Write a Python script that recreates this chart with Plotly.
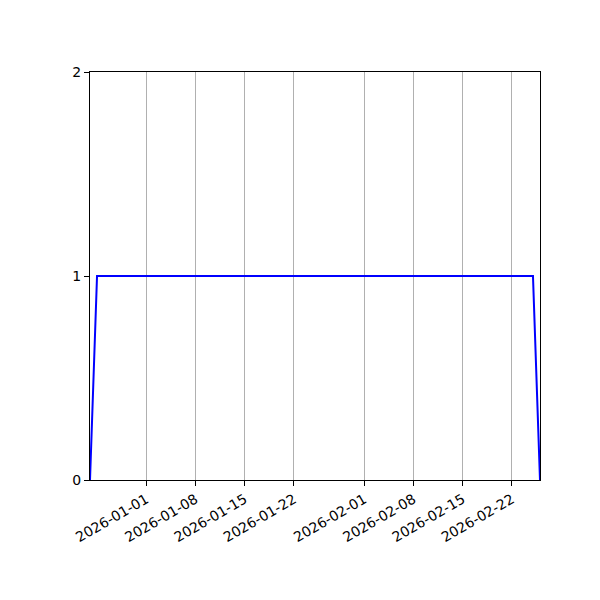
import plotly.graph_objects as go

dates = ["2025-12-24", "2025-12-25", "2026-02-25", "2026-02-26"]
values = [0, 1, 1, 0]
tick_dates = ["2026-01-01", "2026-01-08", "2026-01-15", "2026-01-22",
              "2026-02-01", "2026-02-08", "2026-02-15", "2026-02-22"]
y_ticks = [0, 1, 2]

fig = go.Figure()
fig.add_trace(go.Scatter(x=dates, y=values, mode="lines",
                         line=dict(color="#0000ff", width=2), showlegend=False))

fig.update_layout(
    width=600, height=600,
    margin=dict(l=82, r=68, t=64, b=128, autoexpand=False),
    plot_bgcolor="white", paper_bgcolor="white",
    font=dict(family="DejaVu Sans", size=14, color="black"),
)
fig.update_xaxes(
    range=[dates[0], dates[-1]],
    tickvals=tick_dates, ticktext=tick_dates,
    tickangle=-30,
    showgrid=True, gridcolor="#b0b0b0", gridwidth=1,
    showline=True, linecolor="black", linewidth=1, mirror=True,
    ticks="outside", ticklen=5, tickcolor="black",
    zeroline=False,
)
fig.update_yaxes(
    range=[0, 2], tickvals=y_ticks,
    showgrid=False,
    showline=True, linecolor="black", linewidth=1, mirror=True,
    ticks="outside", ticklen=5, tickcolor="black",
    zeroline=False,
)
fig.write_html("out.html")
